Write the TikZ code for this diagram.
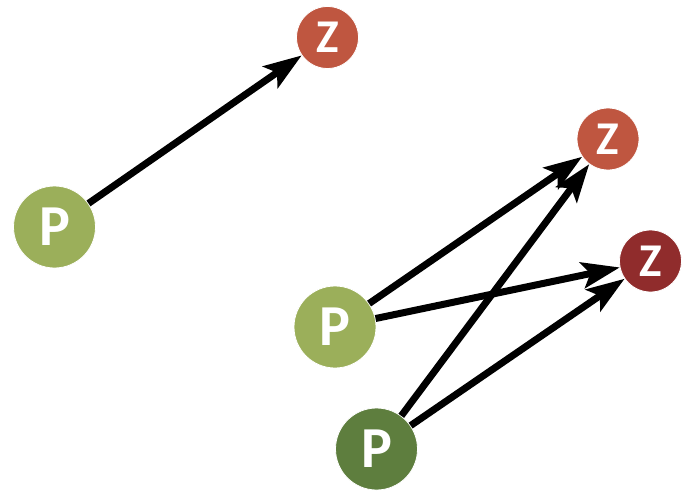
\documentclass[tikz,border=0pt]{standalone}
\usepackage{fontspec}
\setmainfont{Carlito}
\usetikzlibrary{arrows.meta}
\definecolor{pgreen}{HTML}{9BAF5A}
\definecolor{pdark}{HTML}{5E7E3E}
\definecolor{zorange}{HTML}{BF5640}
\definecolor{zdark}{HTML}{902C2C}
\tikzset{
  pnode/.style={circle,draw=white,line width=0.8pt,minimum size=82pt,inner sep=0pt,text=white,font=\fontsize{58}{58}\selectfont\bfseries},
  znode/.style={circle,draw=white,line width=0.8pt,minimum size=62pt,inner sep=0pt,text=white,font=\fontsize{47}{47}\selectfont\bfseries},
  arr/.style={line width=7pt,-{Stealth[length=38pt,width=26pt,inset=8pt]}}
}
\begin{document}
\begin{tikzpicture}[x=1pt,y=-1pt]
\useasboundingbox (0,0) rectangle (684,492);
\node[pnode,fill=pgreen] (p1) at (54.5,227) {P};
\node[znode,fill=zorange] (z1) at (327.5,37.5) {Z};
\node[znode,fill=zorange] (z2) at (608,139) {Z};
\node[znode,fill=zdark] (z3) at (650.5,261) {Z};
\node[pnode,fill=pgreen] (p2) at (335,327) {P};
\node[pnode,fill=pdark] (p3) at (376.5,449) {P};
\draw[arr] (p1) -- (z1);
\draw[arr] (p2) -- (z2);
\draw[arr] (p2) -- (z3);
\draw[arr] (p3) -- (z2);
\draw[arr] (p3) -- (z3);
\end{tikzpicture}
\end{document}
